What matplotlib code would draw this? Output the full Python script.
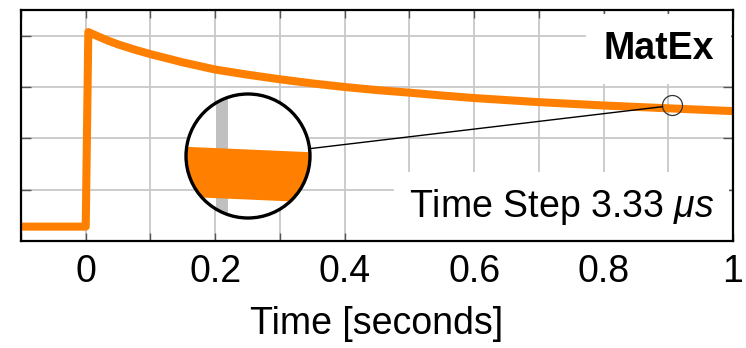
import matplotlib
matplotlib.use("Agg")
import matplotlib.pyplot as plt
from matplotlib.patches import Circle, ConnectionPatch
from matplotlib.ticker import MultipleLocator, FuncFormatter

plt.rcParams['font.family'] = ['Liberation Sans', 'DejaVu Sans']
plt.rcParams['mathtext.fontset'] = 'custom'
plt.rcParams['mathtext.it'] = 'Liberation Sans:italic'
plt.rcParams['mathtext.rm'] = 'Liberation Sans'

# response
time = [-0.1, 0.0, 0.004, 0.02, 0.035, 0.05, 0.075, 0.1, 0.125, 0.15, 0.175,
        0.2, 0.25, 0.3, 0.35, 0.4, 0.45, 0.5, 0.55, 0.6, 0.7, 0.8, 0.9, 1.0]
value = [0.28, 0.28, 4.07, 3.98, 3.90, 3.83, 3.73, 3.64, 3.56, 3.48, 3.41,
         3.34, 3.24, 3.15, 3.07, 3.00, 2.94, 2.89, 2.835, 2.785, 2.705, 2.64,
         2.585, 2.53]
y_ticks = [1, 2, 3, 4]

# zoom spot
zoom_t, zoom_v = 0.9065, 2.64
zoom_dt, zoom_dv = 0.0155, 0.196

orange = '#ff8000'
grid_c = '#c8c8c8'

fig = plt.figure(figsize=(7.46, 3.48), dpi=100)
ax = fig.add_axes([21 / 746, 1 - 241 / 348, 712 / 746, 231 / 348])

ax.plot(time, value, color=orange, lw=5.8, solid_joinstyle='round', zorder=2)
ax.set_xlim(-0.1, 1.0)
ax.set_ylim(0, 4.5)
ax.xaxis.set_major_locator(MultipleLocator(0.2))
ax.xaxis.set_minor_locator(MultipleLocator(0.1))
ax.xaxis.set_major_formatter(FuncFormatter(lambda v, p: '%g' % round(v, 2)))
ax.set_yticks(y_ticks)
ax.set_yticklabels([])
ax.set_axisbelow(True)
ax.grid(True, which='both', color=grid_c, lw=1.3)
ax.tick_params(which='both', direction='in', top=True, right=True,
               length=6, width=1, color='#555555', labelsize=27, pad=9)
ax.tick_params(axis='y', length=7)
for s in ax.spines.values():
    s.set_linewidth(1.6)
    s.set_zorder(6)
ax.set_xlabel('Time [seconds]', fontsize=27, labelpad=12)

ax.text(0.973, 0.91, 'MatEx', transform=ax.transAxes, ha='right', va='top',
        fontsize=27, fontweight='bold', zorder=4,
        bbox=dict(boxstyle='square,pad=0.45', fc='white', ec='none'))
ax.text(0.973, 0.06, r'Time Step 3.33 $\mu s$', transform=ax.transAxes,
        ha='right', va='bottom', fontsize=27, zorder=4,
        bbox=dict(boxstyle='square,pad=0.4', fc='white', ec='none'))

# small marker circle
ax.plot(zoom_t, zoom_v, 'o', ms=14.4, mfc='none', mec='#333333', mew=0.9, zorder=5)

# circular magnifier
cx, cy, r = 248, 156, 62
axi = fig.add_axes([(cx - r) / 746, 1 - (cy + r) / 348, 2 * r / 746, 2 * r / 348])
axi.set_xlim(zoom_t - zoom_dt, zoom_t + zoom_dt)
axi.set_ylim(zoom_v - zoom_dv, zoom_v + zoom_dv)
axi.axis('off')
clip = Circle((0.5, 0.5), 0.5, transform=axi.transAxes, fc='white', ec='none', zorder=0)
axi.add_patch(clip)
g = axi.axvline(0.9, color='#c0c0c0', lw=8.6, zorder=1)
ln, = axi.plot(time, value, color=orange, lw=36, zorder=2)
g.set_clip_path(clip)
ln.set_clip_path(clip)
axi.add_patch(Circle((0.5, 0.5), 0.5, transform=axi.transAxes, fc='none',
                     ec='black', lw=2.4, zorder=3, clip_on=False))

con = ConnectionPatch(xyA=(zoom_t, zoom_v), coordsA=ax.transData,
                      xyB=(0.5, 0.5), coordsB=axi.transAxes,
                      color='black', lw=1.0, shrinkA=7.2, shrinkB=44.6)
fig.add_artist(con)

fig.savefig('out.png', dpi=100)
